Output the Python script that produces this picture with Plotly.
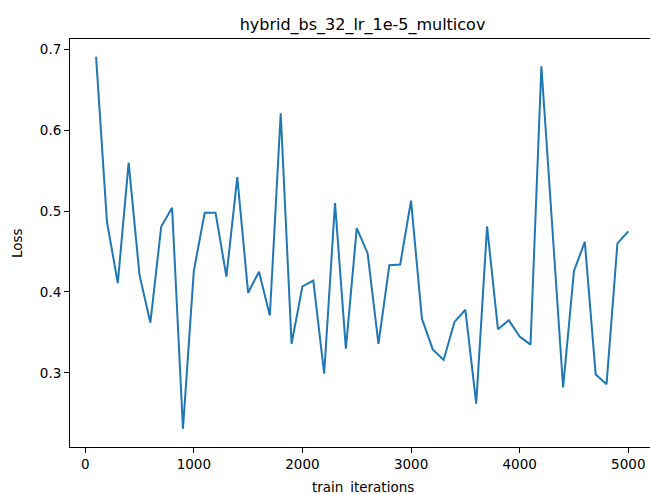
import plotly.graph_objects as go

iterations = list(range(100, 5001, 100))
loss = [
    0.691, 0.487, 0.411, 0.560, 0.421, 0.362, 0.481, 0.504, 0.231, 0.426,
    0.498, 0.498, 0.419, 0.542, 0.399, 0.425, 0.371, 0.621, 0.336, 0.407,
    0.414, 0.299, 0.510, 0.330, 0.479, 0.448, 0.336, 0.433, 0.434, 0.513,
    0.367, 0.329, 0.316, 0.363, 0.378, 0.262, 0.481, 0.354, 0.365, 0.345,
    0.335, 0.679, 0.481, 0.282, 0.426, 0.462, 0.298, 0.286, 0.460, 0.475,
]
x_ticks = [0, 1000, 2000, 3000, 4000, 5000]
y_ticks = [0.3, 0.4, 0.5, 0.6, 0.7]

FONT = "DejaVu Sans"
TXT = "#000000"

fig = go.Figure(
    go.Scatter(
        x=iterations, y=loss, mode="lines",
        line=dict(color="#1f77b4", width=2),
        hoverinfo="skip",
    )
)

fig.update_layout(
    width=650, height=494,
    margin=dict(l=70, r=0, t=39, b=47, pad=0),
    paper_bgcolor="white", plot_bgcolor="white",
    showlegend=False,
    font=dict(family=FONT, size=13.5, color=TXT),
    title=dict(
        text="hybrid_bs_32_lr_1e-5_multicov",
        x=(362.5) / 650, xanchor="center",
        y=1 - 24 / 494, yanchor="middle",
        font=dict(family=FONT, size=16, color=TXT),
    ),
    annotations=[
        dict(text="Loss", textangle=-90, xref="paper", yref="paper",
             x=(17 - 70) / 580, y=0.5, xanchor="center", yanchor="middle",
             showarrow=False, font=dict(family=FONT, size=13.5, color=TXT)),
        dict(text="train\u2002iterations", xref="paper", yref="paper",
             x=(362.5 - 70) / 580, y=-(487 - 447) / 408,
             xanchor="center", yanchor="middle",
             showarrow=False, font=dict(family=FONT, size=13.5, color=TXT)),
    ],
)

fig.update_xaxes(
    range=[-140, 5200], tickvals=x_ticks, ticktext=[str(v) for v in x_ticks],
    showgrid=False, zeroline=False,
    showline=True, linecolor="#000000", linewidth=1, mirror=True,
    ticks="outside", ticklen=5, tickwidth=1, tickcolor="#000000",
)
fig.update_yaxes(
    range=[0.2084, 0.7127], tickvals=y_ticks, ticktext=[f"{v:.1f}" for v in y_ticks],
    showgrid=False, zeroline=False,
    showline=True, linecolor="#000000", linewidth=1, mirror=False,
    ticks="outside", ticklen=5, tickwidth=1, tickcolor="#000000",
)

fig.write_html("out.html")
